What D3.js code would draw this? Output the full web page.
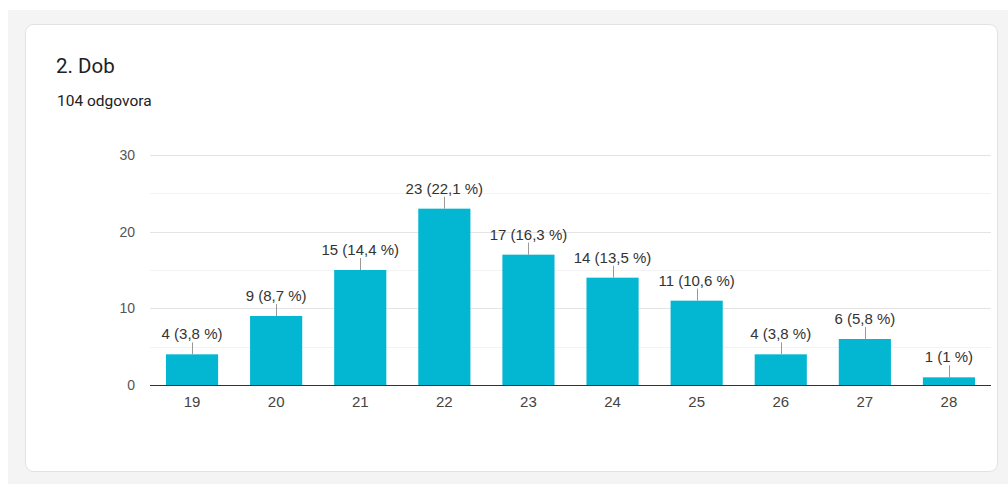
<!DOCTYPE html>
<html>
<head>
<meta charset="utf-8">
<script src="https://cdn.jsdelivr.net/npm/d3@7"></script>
<style>
  body { margin: 0; background: #fff; }
  svg { display: block; }
</style>
</head>
<body>
<div id="chart"></div>
<script>
const ages = ['19', '20', '21', '22', '23', '24', '25', '26', '27', '28'];
const counts = [4, 9, 15, 23, 17, 14, 11, 4, 6, 1];
const percents = ['3,8', '8,7', '14,4', '22,1', '16,3', '13,5', '10,6', '3,8', '5,8', '1'];
const majorTicks = [0, 10, 20, 30];
const minorTicks = [5, 15, 25];

const W = 1008, H = 484;
const plot = { left: 150, right: 991, top: 155, bottom: 385 };

const svg = d3.select('#chart').append('svg')
    .attr('width', W)
    .attr('height', H);

// page background + card
svg.append('rect').attr('x', 8).attr('y', 10).attr('width', W - 8).attr('height', H - 10).attr('fill', '#f4f4f4');
svg.append('rect')
    .attr('x', 25.5).attr('y', 24.5).attr('width', 972).attr('height', 447)
    .attr('rx', 8)
    .attr('fill', '#fff')
    .attr('stroke', '#e2e2e2');

svg.append('text')
    .attr('x', 56).attr('y', 73)
    .attr('font-family', 'Roboto, Arial, sans-serif')
    .attr('font-size', 20.5)
    .attr('fill', '#202124')
    .text('2. Dob');

svg.append('text')
    .attr('x', 57).attr('y', 106)
    .attr('font-family', 'Roboto, Arial, sans-serif')
    .attr('font-size', 15.5)
    .attr('fill', '#202124')
    .text('104 odgovora');

const x = d3.scaleBand()
    .domain(ages)
    .range([plot.left, plot.right])
    .paddingInner(0.38)
    .paddingOuter(0.19);

const y = d3.scaleLinear()
    .domain([0, 30])
    .range([plot.bottom, plot.top]);

const g = svg.append('g').attr('font-family', 'Arial, "Liberation Sans", sans-serif');

// gridlines
g.selectAll('.minor')
    .data(minorTicks)
    .enter().append('line')
    .attr('x1', plot.left).attr('x2', plot.right)
    .attr('y1', d => Math.round(y(d)) + 0.5).attr('y2', d => Math.round(y(d)) + 0.5)
    .attr('stroke', '#f3f3f3');

g.selectAll('.major')
    .data(majorTicks.filter(d => d > 0))
    .enter().append('line')
    .attr('x1', plot.left).attr('x2', plot.right)
    .attr('y1', d => Math.round(y(d)) + 0.5).attr('y2', d => Math.round(y(d)) + 0.5)
    .attr('stroke', '#e4e4e4');

// y tick labels
g.selectAll('.ylab')
    .data(majorTicks)
    .enter().append('text')
    .attr('x', 135)
    .attr('y', d => y(d) + 5)
    .attr('text-anchor', 'end')
    .attr('font-size', 14)
    .attr('fill', '#555')
    .text(d => d);

// bars
g.selectAll('.bar')
    .data(counts)
    .enter().append('rect')
    .attr('x', (d, i) => x(ages[i]))
    .attr('y', d => y(d))
    .attr('width', x.bandwidth())
    .attr('height', d => y(0) - y(d))
    .attr('fill', '#03b6d2');

// baseline axis
g.append('line')
    .attr('x1', plot.left).attr('x2', plot.right)
    .attr('y1', y(0) + 0.5).attr('y2', y(0) + 0.5)
    .attr('stroke', '#333');

// x labels
g.selectAll('.xlab')
    .data(ages)
    .enter().append('text')
    .attr('x', d => x(d) + x.bandwidth() / 2)
    .attr('y', 407)
    .attr('text-anchor', 'middle')
    .attr('font-size', 15)
    .attr('fill', '#444')
    .text(d => d);

// value labels with leader lines
g.selectAll('.leader')
    .data(counts)
    .enter().append('line')
    .attr('x1', (d, i) => Math.round(x(ages[i]) + x.bandwidth() / 2) + 0.5)
    .attr('x2', (d, i) => Math.round(x(ages[i]) + x.bandwidth() / 2) + 0.5)
    .attr('y1', d => y(d))
    .attr('y2', d => y(d) - 12)
    .attr('stroke', '#999');

g.selectAll('.vlab')
    .data(counts)
    .enter().append('text')
    .attr('x', (d, i) => x(ages[i]) + x.bandwidth() / 2)
    .attr('y', d => y(d) - 15)
    .attr('text-anchor', 'middle')
    .attr('font-size', 15)
    .attr('fill', '#333')
    .text((d, i) => d + ' (' + percents[i] + ' %)');
</script>
</body>
</html>
